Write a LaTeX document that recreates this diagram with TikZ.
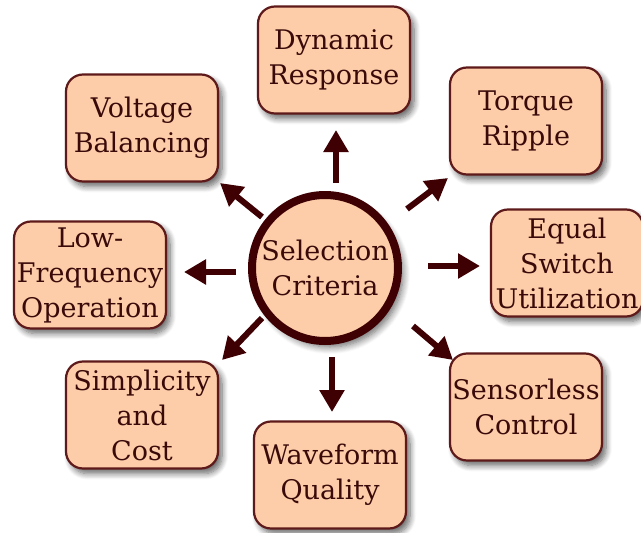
\documentclass[tikz,border=0pt]{standalone}
\usepackage{fontspec}
\setmainfont{DejaVu Serif}
\usetikzlibrary{shadows.blur,arrows.meta}
\definecolor{peach}{HTML}{FDCDA9}
\definecolor{bord}{HTML}{5E1A1A}
\definecolor{arr}{HTML}{3E0003}
\definecolor{txt}{HTML}{3A0A0A}
\tikzset{
  crit/.style={draw=bord, line width=2.2pt, fill=peach, rounded corners=17pt,
    minimum width=152pt, minimum height=107pt, align=center, text=txt,
    font=\fontsize{27}{35}\selectfont, inner sep=0pt,
    blur shadow={shadow xshift=4pt, shadow yshift=-5pt, shadow blur steps=8, shadow blur radius=6pt, shadow opacity=60}},
  hub/.style={draw=arr, line width=8pt, fill=peach, circle, minimum size=146pt,
    align=center, text=txt, font=\fontsize{27}{35}\selectfont, inner sep=0pt,
    blur shadow={shadow xshift=5pt, shadow yshift=-6pt, shadow blur steps=8, shadow blur radius=7pt, shadow opacity=60}},
  bigarrow/.style={draw=arr, line width=6pt, -{Triangle[length=22pt,width=24pt]}}
}
\begin{document}
\begin{tikzpicture}[x=1pt,y=-1pt]
\useasboundingbox (0,0) rectangle (641,533);
\node[crit] (dyn) at (334,60) {Dynamic\\Response};
\node[crit] (volt) at (142,128) {Voltage\\Balancing};
\node[crit] (torq) at (526,121) {Torque\\Ripple};
\node[crit] (low) at (90,275) {Low-\\Frequency\\Operation};
\node[crit] (equal) at (567,263) {Equal\\Switch\\Utilization};
\node[crit] (simp) at (142,415) {Simplicity\\and\\Cost};
\node[crit] (sens) at (526,407) {Sensorless\\Control};
\node[crit] (wave) at (330,475) {Waveform\\Quality};
\node[hub] (sel) at (325,268) {Selection\\Criteria};
\coordinate (t1) at (336,183); \coordinate (h1) at (336,130);
\coordinate (t2) at (262,217); \coordinate (h2) at (220,183);
\coordinate (t3) at (407,209); \coordinate (h3) at (448,178);
\coordinate (t4) at (428,266); \coordinate (h4) at (480,266);
\coordinate (t5) at (413,326); \coordinate (h5) at (453,360);
\coordinate (t6) at (332,357); \coordinate (h6) at (332,412);
\coordinate (t7) at (262,318); \coordinate (h7) at (222,360);
\coordinate (t8) at (236,272); \coordinate (h8) at (184,272);
\foreach \i in {1,...,8} \draw[bigarrow] (t\i) -- (h\i);
\end{tikzpicture}
\end{document}
